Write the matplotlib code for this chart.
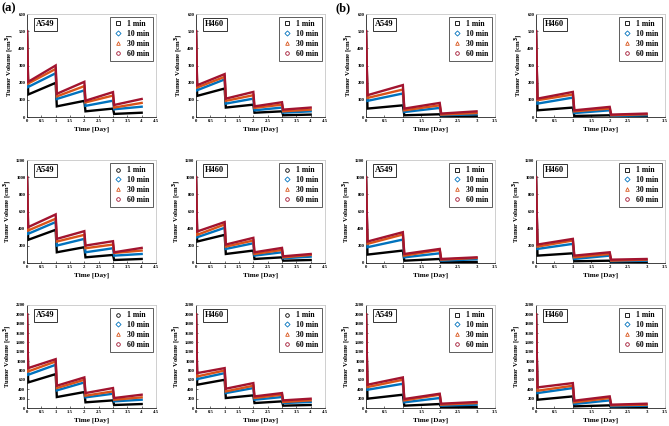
import numpy as np
import matplotlib
matplotlib.use("Agg")
import matplotlib.pyplot as plt
from matplotlib.lines import Line2D
from matplotlib.ticker import FuncFormatter

plt.rcParams['font.family'] = ['Liberation Serif', 'DejaVu Serif']
plt.rcParams['font.weight'] = 'bold'

# treatment durations and their styles
durations = ["1 min", "10 min", "30 min", "60 min"]
colors = ["#000000", "#0072BD", "#D95319", "#A2142F"]
markers = ["s", "D", "^", "o"]

# initial volume per row
initial_volume = [500, 1000, 2000]
y_max = [600, 1200, 2200]
y_step = [100, 200, 200]

# values per series: [start day1, end day1, start day2, end day2, ...]
# rows of each list: 1 min, 10 min, 30 min, 60 min
a_A549_500 = [[131, 199, 62, 94, 33, 49, 18, 25],
              [175, 255, 105, 155, 65, 95, 45, 60],
              [195, 280, 120, 180, 85, 125, 55, 82],
              [205, 300, 135, 205, 95, 145, 70, 105]]
a_H460_500 = [[123, 166, 55, 72, 25, 33, 10, 14],
              [156, 219, 78, 107, 39, 55, 25, 33],
              [172, 234, 94, 127, 53, 72, 33, 43],
              [185, 250, 107, 146, 62, 86, 43, 55]]
b_A549_500 = [[49, 68, 10, 16, 2, 4],
              [94, 137, 29, 53, 10, 16],
              [111, 160, 39, 68, 14, 23],
              [127, 186, 49, 82, 20, 33]]
b_H460_500 = [[39, 55, 6, 10, 2, 2],
              [78, 113, 23, 39, 6, 10],
              [98, 131, 33, 49, 10, 16],
              [107, 146, 39, 59, 14, 20]]

a_A549_1000 = [[270, 387, 125, 184, 66, 94, 35, 47],
               [340, 477, 203, 281, 125, 172, 86, 105],
               [379, 516, 250, 328, 172, 215, 117, 145],
               [418, 566, 281, 371, 203, 254, 125, 176]]
a_H460_1000 = [[250, 328, 105, 145, 47, 66, 27, 35],
               [300, 410, 164, 230, 86, 125, 55, 74],
               [328, 449, 191, 262, 105, 152, 66, 94],
               [367, 477, 215, 293, 125, 176, 78, 105]]
b_A549_1000 = [[98, 145, 27, 47, 8, 12],
               [184, 273, 66, 113, 27, 43],
               [223, 332, 86, 152, 39, 59],
               [250, 359, 105, 164, 47, 66]]
b_H460_1000 = [[86, 113, 20, 27, 4, 4],
               [164, 223, 47, 86, 20, 27],
               [191, 262, 66, 105, 27, 39],
               [215, 281, 86, 125, 39, 47]]

a_A549_2000 = [[546, 724, 234, 341, 121, 163, 64, 85],
               [710, 923, 376, 546, 227, 305, 142, 177],
               [781, 994, 426, 603, 263, 355, 177, 227],
               [852, 1043, 476, 653, 319, 426, 213, 284]]
a_H460_2000 = [[497, 603, 213, 270, 106, 142, 50, 64],
               [617, 745, 319, 426, 177, 234, 106, 128],
               [674, 802, 355, 476, 213, 284, 128, 163],
               [745, 852, 412, 532, 248, 319, 163, 199]]
b_A549_2000 = [[199, 284, 50, 85, 14, 21],
               [390, 518, 121, 213, 50, 71],
               [447, 603, 163, 284, 71, 106],
               [497, 653, 192, 305, 92, 128]]
b_H460_2000 = [[177, 248, 35, 57, 7, 14],
               [319, 426, 85, 163, 35, 50],
               [369, 476, 121, 213, 57, 71],
               [440, 532, 156, 248, 71, 92]]

panels = [
    [("A549", a_A549_500), ("H460", a_H460_500), ("A549", b_A549_500), ("H460", b_H460_500)],
    [("A549", a_A549_1000), ("H460", a_H460_1000), ("A549", b_A549_1000), ("H460", b_H460_1000)],
    [("A549", a_A549_2000), ("H460", a_H460_2000), ("A549", b_A549_2000), ("H460", b_H460_2000)],
]

W, H = 669, 426
fig = plt.figure(figsize=(W / 100, H / 100), dpi=100)

col_left = [27, 196, 366, 536]
row_top = [14, 160, 305]
ax_w, ax_h = 129, 103
drop = 0.04


def fmt(x, pos):
    return ("%g" % x)


for r in range(3):
    for c in range(4):
        name, series = panels[r][c]
        ax = fig.add_axes([col_left[c] / W, 1 - (row_top[r] + ax_h) / H, ax_w / W, ax_h / H])
        n_days = len(series[0]) // 2
        t = [0.0]
        for d in range(n_days):
            t += [d + drop, d + 1.0]
        for i, vals in enumerate(series):
            v = [initial_volume[r]] + vals
            ax.plot(t, v, color=colors[i], lw=1.7, solid_joinstyle='miter', zorder=2 + i)
        xmax = 4.5 if c < 2 else 3.5
        ax.set_xlim(0, xmax)
        ax.set_ylim(0, y_max[r])
        ax.set_xticks(np.arange(0, xmax + 0.01, 0.5))
        ax.set_yticks(np.arange(0, y_max[r] + 1, y_step[r]))
        ax.xaxis.set_major_formatter(FuncFormatter(fmt))
        ax.tick_params(direction='in', length=1.5, width=0.4, labelsize=3.4, pad=1.2,
                       top=False, right=False)
        for sp in ['left', 'bottom']:
            ax.spines[sp].set_linewidth(0.6)
            ax.spines[sp].set_color('#222222')
        for sp in ['top', 'right']:
            ax.spines[sp].set_linewidth(0.6)
            ax.spines[sp].set_color('#c8c8c8')
        ax.set_xlabel("Time [Day]", fontsize=5.2, fontweight='bold', labelpad=3)
        ax.set_ylabel("Tumor Volume [cm$^\\mathbf{3}$]", fontsize=4.8, fontweight='bold', labelpad=1.5)
        ax.text(0.07, 0.9, name, transform=ax.transAxes, fontsize=6, fontweight='bold',
                va='center', ha='left',
                bbox=dict(boxstyle='square,pad=0.3', fc='white', ec='#333333', lw=0.7))
        mk = list(markers)
        if c < 2 and r > 0:
            mk[0] = 'o'
        handles = [Line2D([], [], ls='none', marker=mk[i], mfc='none', mec=colors[i],
                          mew=0.6, ms=2.6) for i in range(4)]
        leg = ax.legend(handles, durations, loc='upper right', fontsize=5.6,
                        frameon=True, fancybox=False, borderpad=0.4, labelspacing=0.25,
                        handlelength=1.2, handletextpad=0.6, borderaxespad=0.4,
                        prop={'weight': 'bold', 'size': 5.6})
        leg.get_frame().set_edgecolor('#333333')
        leg.get_frame().set_linewidth(0.7)

fig.text(2 / W, 1 - 8 / H, "(a)", fontsize=9, fontweight='bold', va='center', ha='left')
fig.text(336 / W, 1 - 8 / H, "(b)", fontsize=9, fontweight='bold', va='center', ha='left')

fig.savefig("out.png", dpi=100)
